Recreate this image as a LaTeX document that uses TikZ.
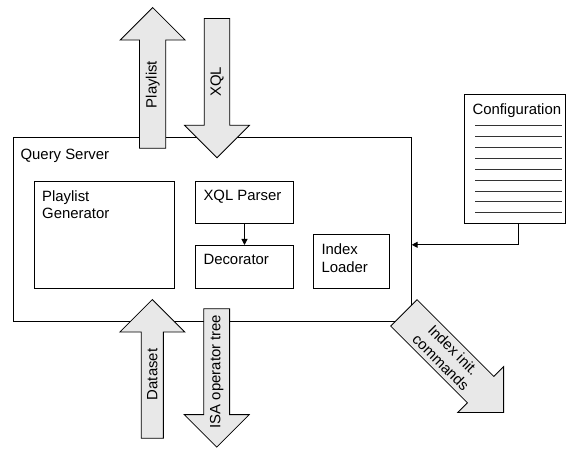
\documentclass[tikz,border=0pt]{standalone}
\usepackage{fontspec}
\setmainfont{Liberation Sans}
\usetikzlibrary{shapes.arrows,arrows.meta}

\begin{document}
\begin{tikzpicture}
[x=1pt,y=1pt,
  every node/.style={font=\fontsize{14.9}{17.5}\selectfont},%
  boxDecorate/.style={draw,line width=1pt,inner sep=0pt,anchor=north west},%
  textDecorate/.style={anchor=north west,inner sep=0pt,align=left,xshift=8pt,yshift=-9.5pt},%
  arrowDecorate/.style={single arrow,draw,line width=0.8pt,fill=black!9,
    single arrow head extend=10.85pt,single arrow tip angle=90,
    minimum width=65pt,inner sep=0pt,anchor=tip,align=center},%
  lineDecorate/.style={-{Triangle[length=6pt,width=6pt]},line width=1pt}]
\useasboundingbox (0,0) rectangle (566,448);
%% outer box
\node (server) at (12.7,310.7) [boxDecorate,minimum width=398pt,minimum height=183.4pt,
  label={[textDecorate,xshift=-0.3pt,yshift=-2.5pt]north west:Query Server}] {};
%% inner boxes and the configuration file
\foreach \nodename/\x/\y/\w/\h/\txt in {
  playlistGen/34/267.3/140.3/107/{Playlist\\Generator},
  xqlParser/195.3/267.3/97.4/42.6/{XQL Parser},
  decorator/195.3/203/97.4/42.7/Decorator,
  indexLoader/313.3/213.7/76/53.4/{Index\\Loader},
  config/464.3/353.7/101/129/Configuration}
{
  \node (\nodename) at (\x,\y) [boxDecorate,minimum width=\w pt,minimum height=\h pt,
    label={[textDecorate]north west:\txt}] {};
}
\foreach \i in {0,...,8}
{
  \draw[line width=1pt,black!80] ([xshift=10.7pt,yshift=-31.7-10.84*\i]config.north west) -- ++(86.7,0);
}
%% edges or lines
\draw[lineDecorate] (xqlParser) -- (decorator);
\draw[lineDecorate] ([xshift=3.5pt]config.south) |- ([yshift=-15.3pt]server.east);
%% block arrows
\foreach \nodename/\x/\y/\len/\rot/\flip/\txt in {
  playlistOut/152.7/441/140.7/90/0/Playlist,
  xqlIn/217/289.7/139.3/90/180/XQL,
  datasetIn/152.3/149/138.7/90/0/Dataset,
  isaOut/216.7/0.3/138.4/90/180/{ISA operator tree},
  indexCmdOut/504/35/141/-45/0/{Index init.\\commands}}
{
  \node (\nodename) at (\x,\y) [arrowDecorate,minimum height=\len pt,rotate=\rot,
    shape border rotate=\flip] {\txt};
}
\end{tikzpicture}
\end{document}
